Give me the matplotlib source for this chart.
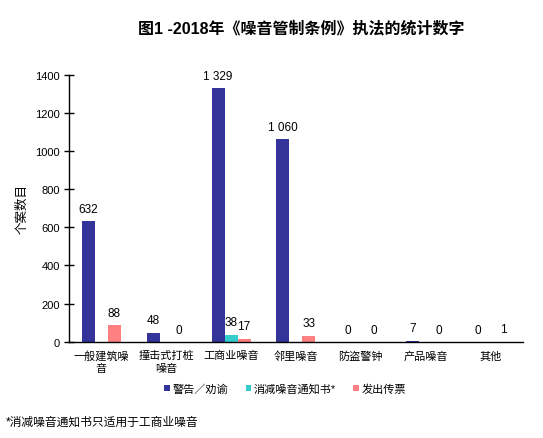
import numpy as np
import matplotlib
matplotlib.use('Agg')
import matplotlib.pyplot as plt
from matplotlib.patches import Patch

# fonts: latin first, CJK as fallback
plt.rcParams['font.family'] = ['Liberation Sans', 'Noto Sans CJK SC']

# chart data
categories = ['一般建筑噪\n音', '撞击式打桩\n噪音', '工商业噪音', '邻里噪音', '防盗警钟', '产品噪音', '其他']
series_names = ['警告／劝谕', '消减噪音通知书*', '发出传票']
warnings = [632, 48, 1329, 1060, 0, 7, 0]
abatement = [0, 0, 38, 0, 0, 0, 0]
summons = [88, 0, 17, 33, 0, 0, 1]
colors = ['#333399', '#33CCCC', '#FF8080']
yticks = [0, 200, 400, 600, 800, 1000, 1200, 1400]

fig = plt.figure(figsize=(5.43, 4.39), dpi=100)
ax = fig.add_axes([0.127, 0.219, 0.836, 0.609])

x = np.arange(len(categories))
w = 0.2

# draw bars
b1 = ax.bar(x - w, warnings, w, color=colors[0])
b2 = ax.bar(x, abatement, w, color=colors[1])
b3 = ax.bar(x + w, summons, w, color=colors[2])

# value labels (thousands with a space)
def fmt(v):
    return '{:,}'.format(v).replace(',', ' ')

for bars, vals, show in [(b1, warnings, None), (b3, summons, None), (b2, abatement, [2])]:
    for i, (rect, v) in enumerate(zip(bars, vals)):
        if show is not None and i not in show:
            continue
        ax.annotate(fmt(v), (rect.get_x() + rect.get_width() / 2, v),
                    xytext=(0, 4.5), textcoords='offset points',
                    ha='center', va='bottom', fontsize=8.5)

ax.set_xlim(-0.5, len(categories) - 0.5)
ax.set_ylim(0, 1400)
ax.set_yticks(yticks)
ax.set_yticklabels([str(t) for t in yticks], fontsize=8)
ax.set_xticks(x)
ax.set_xticklabels(categories, fontsize=8, linespacing=1.3)
ax.tick_params(axis='x', length=0, pad=6)
ax.tick_params(axis='y', direction='inout', length=7, width=1, pad=3)
ax.spines['top'].set_visible(False)
ax.spines['right'].set_visible(False)
ax.spines['left'].set_linewidth(1)
ax.spines['bottom'].set_linewidth(1)
ax.set_ylabel('个案数目', fontsize=9, labelpad=5)

# legend with small square markers
handles = [Patch(facecolor=c, edgecolor='none') for c in colors]
fig.legend(handles, series_names, loc='center', bbox_to_anchor=(0.525, 0.112),
           ncol=3, frameon=False, fontsize=8, handlelength=0.5, handleheight=0.5,
           handletextpad=0.2, columnspacing=1.6)

# title and footnote
fig.text(0.554, 0.936, '图1 -2018年《噪音管制条例》执法的统计数字',
         ha='center', va='center', fontsize=11.5, fontweight='bold')
fig.text(0.01, 0.036, '*消减噪音通知书只适用于工商业噪音', ha='left', va='center', fontsize=8.5)

fig.savefig('out.png', dpi=100)
